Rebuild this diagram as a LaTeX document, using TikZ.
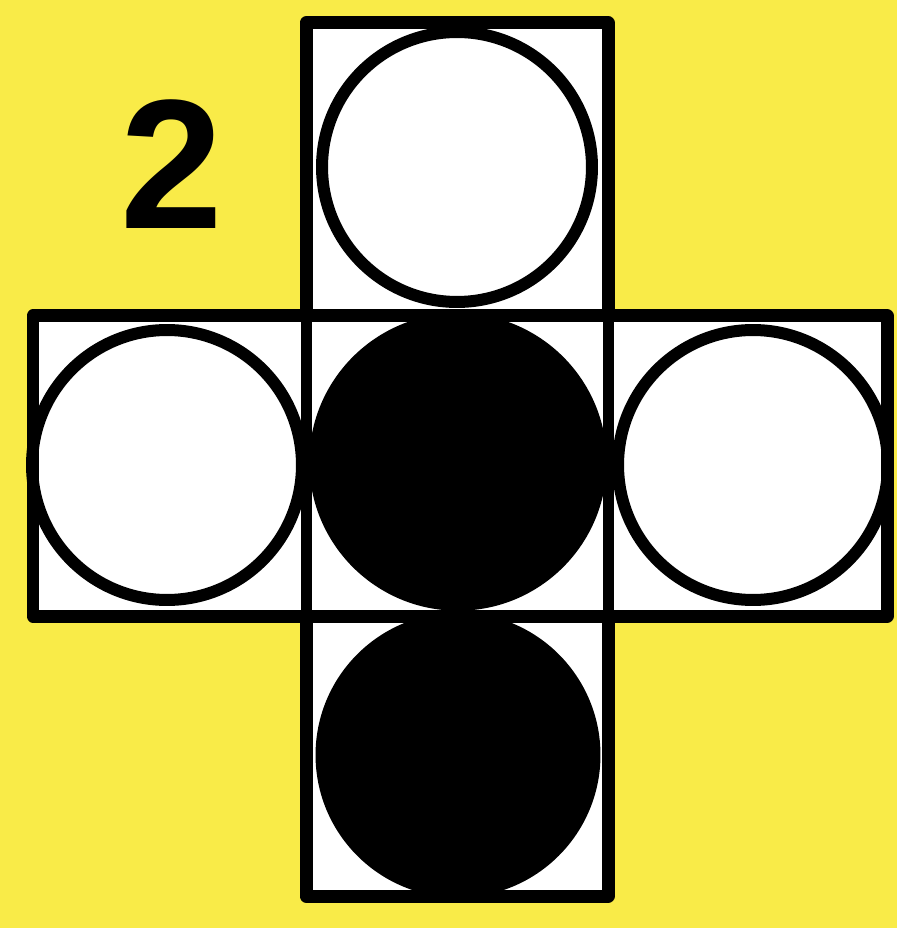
\documentclass[tikz,border=0pt]{standalone}
\usepackage{fontspec}
\setmainfont{Liberation Sans}
\definecolor{paper}{RGB}{249,235,72}
\begin{document}
\begin{tikzpicture}[x=0.02cm,y=-0.02cm,
  cell/.style={fill=white,draw=black,line width=0.26cm,line join=round},
  divider/.style={draw=black,line width=0.22cm},
  ring/.style={circle,draw=black,fill=white,line width=0.24cm,inner sep=0pt,minimum size=5.4cm},
  disc/.style={circle,fill=black,inner sep=0pt,minimum size=5.95cm}]
  % background
  \fill[paper] (0,0) rectangle (897,928);
  \useasboundingbox (0,0) rectangle (897,928);
  % white cells
  \fill[white] (306,23) rectangle (608,316);
  \fill[white] (33,316) rectangle (887,616);
  \fill[white] (306,616) rectangle (608,896);
  % circles
  \node[ring] (ctop) at (457,167) {};
  \node[ring] (cleft) at (167,465) {};
  \node[ring] (cright) at (753,465) {};
  \node[disc] (cmid) at (458,462) {};
  \node[disc,minimum size=5.7cm] (cbot) at (458,755) {};
  % cell outlines
  \draw[cell,fill=none] (306,316) -- (306,23) -- (608,23) -- (608,316);
  \draw[cell,fill=none] (33,316) rectangle (887,616);
  \draw[cell,fill=none] (306,616) -- (306,896) -- (608,896) -- (608,616);
  \draw[divider] (306,316) -- (306,616);
  \draw[divider] (608,316) -- (608,616);
  \draw[divider] (306,316) -- (608,316);
  \draw[divider] (306,616) -- (608,616);
  % label
  \node[font=\fontsize{105pt}{105pt}\selectfont\bfseries,inner sep=0pt] (num) at (172,164) {2};
\end{tikzpicture}
\end{document}
